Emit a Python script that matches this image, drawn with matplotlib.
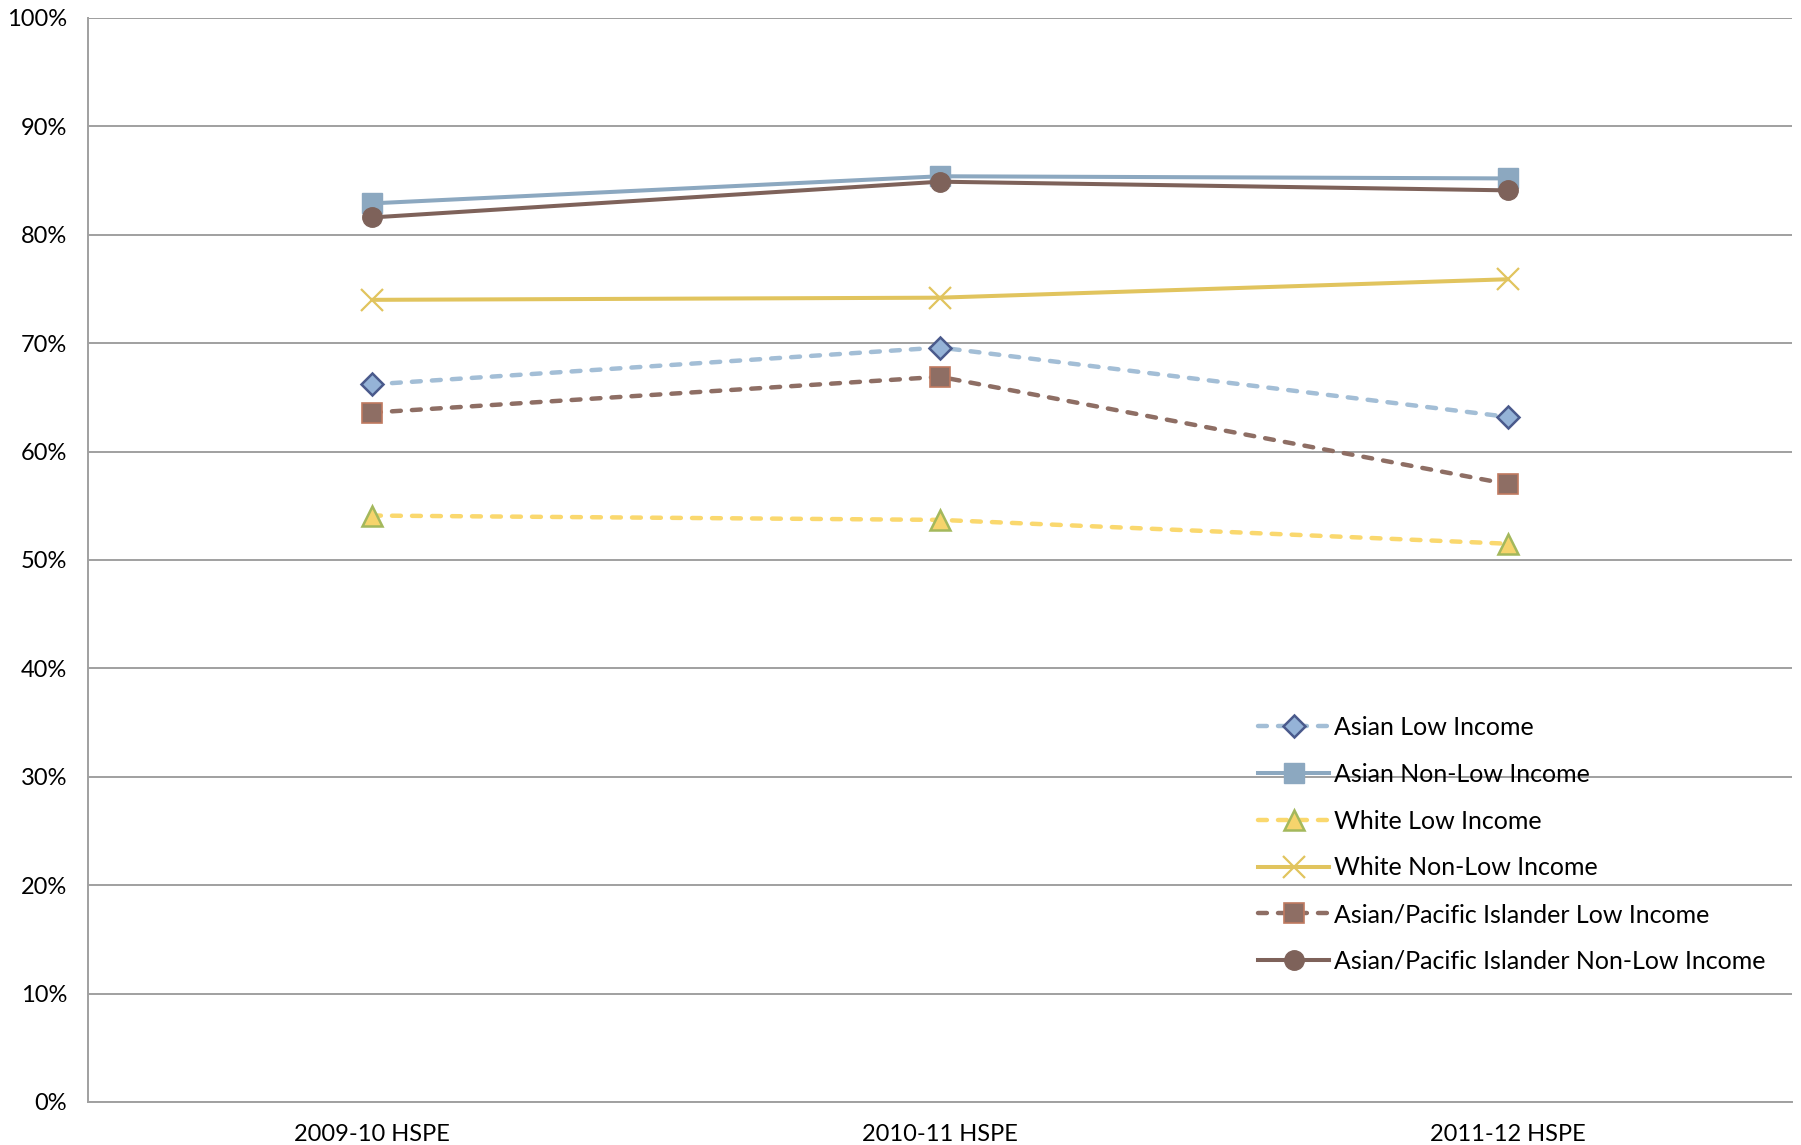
import matplotlib
matplotlib.use("Agg")
import matplotlib.pyplot as plt
from matplotlib.ticker import MultipleLocator, FuncFormatter

plt.rcParams['font.family'] = ['Lato', 'DejaVu Sans']

categories = ["2009-10 HSPE", "2010-11 HSPE", "2011-12 HSPE"]

asian_low = [66.2, 69.6, 63.2]
asian_nonlow = [82.9, 85.4, 85.2]
white_low = [54.1, 53.7, 51.5]
white_nonlow = [74.0, 74.2, 75.9]
api_low = [63.6, 66.9, 57.0]
api_nonlow = [81.6, 84.9, 84.1]

labels = ["Asian Low Income", "Asian Non-Low Income", "White Low Income",
          "White Non-Low Income", "Asian/Pacific Islander Low Income",
          "Asian/Pacific Islander Non-Low Income"]

fig = plt.figure(figsize=(18.01, 11.45), dpi=100)
ax = fig.add_axes([88/1801, 1 - 1102/1145, (1792-88)/1801, (1102-18)/1145])

x = list(range(len(categories)))
lw = 2.9
dlw = 3.2
dash = (2.0, 2.5)

ax.plot(x, asian_low, color="#A3BED6", lw=dlw, linestyle=(0, dash), dash_capstyle="round",
        marker="D", markersize=11, markerfacecolor="#95B3D7", markeredgecolor="#4A5A8C",
        markeredgewidth=1.8, label=labels[0], zorder=3)
ax.plot(x, asian_nonlow, color="#8CA8C0", lw=lw, marker="s", markersize=14,
        markerfacecolor="#8CA8C0", markeredgecolor="#8CA8C0",
        label=labels[1], zorder=3)
ax.plot(x, white_low, color="#FAD86E", lw=dlw, linestyle=(0, dash), dash_capstyle="round",
        marker="^", markersize=15, markerfacecolor="#F6D46C", markeredgecolor="#A3B85C",
        markeredgewidth=1.8, label=labels[2], zorder=3)
ax.plot(x, white_nonlow, color="#E1C45E", lw=lw, marker="x", markersize=16,
        markeredgecolor="#E1C45E", markeredgewidth=1.6,
        label=labels[3], zorder=3)
ax.plot(x, api_low, color="#8E6E64", lw=dlw, linestyle=(0, dash), dash_capstyle="round",
        marker="s", markersize=14, markerfacecolor="#8E6E64", markeredgecolor="#C07A60",
        markeredgewidth=1.2, label=labels[4], zorder=3)
ax.plot(x, api_nonlow, color="#7E625A", lw=lw, marker="o", markersize=14,
        markerfacecolor="#7E625A", markeredgecolor="#7E625A",
        label=labels[5], zorder=4)

ax.set_xlim(-0.5, len(categories) - 0.5)
ax.set_ylim(0, 100)
ax.set_xticks(x)
ax.set_xticklabels(categories)
ax.yaxis.set_major_locator(MultipleLocator(10))
ax.yaxis.set_major_formatter(FuncFormatter(lambda v, p: f"{int(round(v))}%"))
ax.tick_params(axis='both', length=0, labelsize=17, colors="#000000")
ax.tick_params(axis='y', pad=15)
ax.tick_params(axis='x', pad=16)

ax.grid(axis='y', color="#A0A0A0", lw=1.4, zorder=0)
ax.set_axisbelow(True)
for s in ["top", "right"]:
    ax.spines[s].set_visible(False)
for s in ["left", "bottom"]:
    ax.spines[s].set_color("#A0A0A0")
    ax.spines[s].set_linewidth(1.4)
ax.axhline(100, color="#A0A0A0", lw=1.4, zorder=0)

leg = ax.legend(loc="upper left", bbox_to_anchor=(0.6866, 0.356), frameon=False,
                fontsize=18, handlelength=2.85, handletextpad=0.2,
                labelspacing=0.95, borderpad=0, borderaxespad=0, numpoints=1)

fig.savefig("out.png", dpi=100)
